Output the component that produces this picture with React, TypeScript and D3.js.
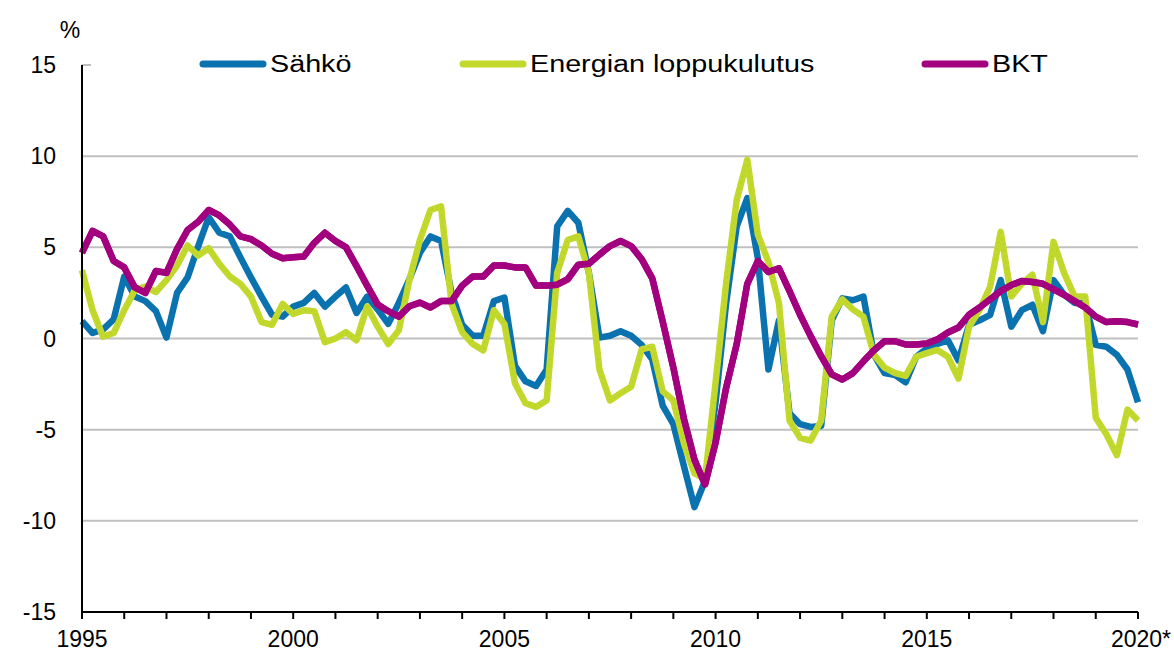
import React from "react";
import * as d3 from "d3";

// quarterly, 1995Q1 .. 2020Q1, annual change %
const startYear = 1995;
const yearTicks = [1995, 1996, 1997, 1998, 1999, 2000, 2001, 2002, 2003, 2004, 2005, 2006, 2007, 2008, 2009, 2010, 2011, 2012, 2013, 2014, 2015, 2016, 2017, 2018, 2019, 2020];
const yearLabels = ["1995", "2000", "2005", "2010", "2015", "2020*"];
const yTicks = [15, 10, 5, 0, -5, -10, -15];

const sahko = [
  0.95, 0.3, 0.5, 1.05,
  3.4, 2.3, 2.05, 1.5,
  0.05, 2.5, 3.35, 5.05,
  6.65, 5.8, 5.6, 4.45,
  3.35, 2.3, 1.3, 1.2,
  1.75, 1.95, 2.5, 1.75,
  2.3, 2.8, 1.4, 2.3,
  1.6, 0.8, 1.95, 3.25,
  4.7, 5.6, 5.35, 2.5,
  0.75, 0.15, 0.15, 2.05,
  2.25, -1.5, -2.35, -2.6,
  -1.7, 6.15, 7.0, 6.35,
  3.6, 0.05, 0.15, 0.4,
  0.15, -0.35, -1.15, -3.7,
  -4.7, -7.0, -9.25, -7.8,
  -3.5, 1.95, 6.15, 7.7,
  4.4, -1.7, 1.0, -4.1,
  -4.7, -4.85, -4.8, 1.0,
  2.2, 2.1, 2.3, -0.9,
  -1.9, -2.0, -2.4, -1.0,
  -0.55, -0.3, -0.1, -1.2,
  0.75, 1.0, 1.3, 3.2,
  0.65, 1.55, 1.85, 0.4,
  3.2, 2.4, 1.95, 1.95,
  -0.35, -0.45, -0.9, -1.7,
  -3.5,
];

const energia = [
  3.75, 1.55, 0.1, 0.3,
  1.55, 2.65, 2.85, 2.55,
  3.2, 4.0, 5.1, 4.55,
  4.95, 4.1, 3.4, 3.0,
  2.3, 0.9, 0.75, 1.9,
  1.35, 1.55, 1.5, -0.2,
  0.0, 0.35, -0.1, 1.75,
  0.65, -0.3, 0.45, 3.2,
  5.4, 7.05, 7.25, 1.9,
  0.35, -0.3, -0.65, 1.55,
  0.8, -2.45, -3.55, -3.75,
  -3.4, 3.6, 5.4, 5.6,
  3.6, -1.7, -3.4, -3.0,
  -2.65, -0.6, -0.45, -2.9,
  -3.4, -5.75, -7.4, -7.7,
  -2.4, 3.05, 7.6, 9.8,
  5.7, 4.2, 1.95, -4.5,
  -5.45, -5.6, -4.5, 1.2,
  2.15, 1.6, 1.2, -0.9,
  -1.6, -1.9, -2.05, -1.0,
  -0.8, -0.63, -1.0, -2.2,
  0.65, 1.56, 2.85, 5.85,
  2.3, 3.0, 3.5, 0.9,
  5.3, 3.6, 2.3, 2.3,
  -4.35, -5.25, -6.4, -3.9,
  -4.5,
];

const bkt = [
  4.7, 5.9, 5.6, 4.25,
  3.9, 2.8, 2.5, 3.7,
  3.6, 4.9, 5.95, 6.4,
  7.05, 6.75, 6.25, 5.6,
  5.45, 5.1, 4.65, 4.4,
  4.45, 4.5, 5.25, 5.8,
  5.35, 5.0, 3.97, 2.9,
  1.87, 1.5, 1.2, 1.77,
  1.97, 1.7, 2.05, 2.05,
  2.9, 3.4, 3.4, 4.0,
  4.0, 3.9, 3.9, 2.9,
  2.9, 2.95, 3.25, 4.05,
  4.1, 4.6, 5.07, 5.35,
  5.07, 4.35, 3.3, 0.9,
  -1.6, -4.4, -6.65, -8.0,
  -5.7, -2.7, -0.3, 3.0,
  4.25, 3.65, 3.85, 2.6,
  1.3, 0.13, -0.97, -1.97,
  -2.25, -1.9, -1.25, -0.64,
  -0.15, -0.15, -0.33, -0.33,
  -0.27, -0.05, 0.33, 0.6,
  1.3, 1.7, 2.15, 2.6,
  2.93, 3.15, 3.1, 3.0,
  2.7, 2.4, 2.05, 1.7,
  1.2, 0.9, 0.95, 0.9,
  0.77,
];

const seriesNames = ["Sähkö", "Energian loppukulutus", "BKT"];
const colors = ["#0a72ae", "#c3d82c", "#a3007f"];

export default function App() {
  const width = 1174;
  const height = 653;
  const left = 82, right = 1138, top = 65, bottom = 612;
  const font = "'Liberation Sans', Arial, sans-serif";

  const x = d3.scaleLinear().domain([startYear, 2020]).range([left, right]);
  const y = d3.scaleLinear().domain([-15, 15]).range([bottom, top]);

  const line = d3.line<number>()
    .x((d, i) => x(startYear + i / 4))
    .y(d => y(d));

  const data = [sahko, energia, bkt];
  const legendX = [200, 460, 922];

  return (
    <svg width={width} height={height} style={{position: "absolute", left: 0, top: 0, background: "white"}}
      fontFamily={font}>
      {/* grid */}
      {yTicks.filter(t => t !== -15 && t !== 15).map(t => (
        <line key={t} x1={left} x2={right} y1={y(t)} y2={y(t)} stroke="#c0c0c0" strokeWidth={2} />
      ))}
      <line x1={left} x2={left + 9} y1={y(15)} y2={y(15)} stroke="#c0c0c0" strokeWidth={2} />

      {/* y labels */}
      {yTicks.map(t => (
        <text key={t} x={56} y={y(t) + 8} textAnchor="end" fontSize={23} fill="#000">{t}</text>
      ))}
      <text x={70} y={38} textAnchor="middle" fontSize={23}>%</text>

      {/* series */}
      {data.map((s, k) => (
        <path key={k} d={line(s) || ""} fill="none" stroke={colors[k]} strokeWidth={6.5}
          strokeLinejoin="round" strokeLinecap="butt" />
      ))}
      <path d={line(energia) || ""} fill="none" stroke="#a9bf22" strokeWidth={1}
        strokeDasharray="1 5" opacity={0.7} />
      <path d={line(bkt) || ""} fill="none" stroke={colors[2]} strokeWidth={6.5} strokeLinejoin="round" />

      {/* axes */}
      <line x1={left} x2={left} y1={top} y2={bottom} stroke="#000" strokeWidth={2} />
      <line x1={left} x2={right} y1={bottom} y2={bottom} stroke="#000" strokeWidth={2} />
      {yearTicks.map(yr => (
        <line key={yr} x1={x(yr)} x2={x(yr)} y1={bottom} y2={bottom + 7} stroke="#000" strokeWidth={2} />
      ))}
      {yearLabels.map(l => {
        const last = l.endsWith("*");
        return (
          <text key={l} x={last ? 1171 : x(parseInt(l))} y={647} textAnchor={last ? "end" : "middle"}
            fontSize={23}>{l}</text>
        );
      })}

      {/* legend */}
      {seriesNames.map((n, k) => (
        <g key={n}>
          <line x1={legendX[k] + 3} x2={legendX[k] + 63} y1={64} y2={64} stroke={colors[k]}
            strokeWidth={7} strokeLinecap="round" />
          <text transform={`translate(${legendX[k] + 70},72) scale(1.25,1)`} fontSize={23}>{n}</text>
        </g>
      ))}
    </svg>
  );
}
